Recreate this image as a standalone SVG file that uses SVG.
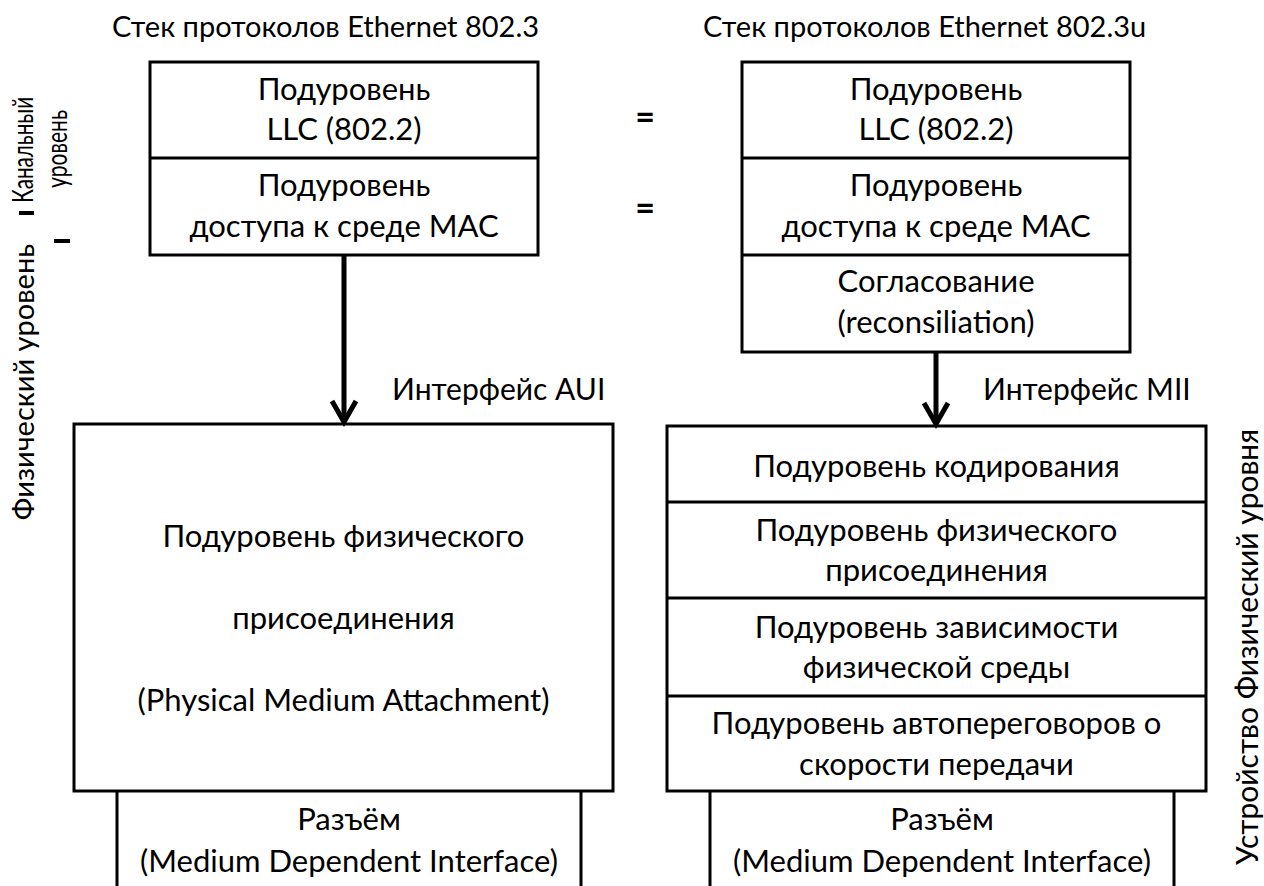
<svg xmlns="http://www.w3.org/2000/svg" width="1264" height="886" viewBox="0 0 1264 886">
  <style>
    .box { fill: #ffffff; stroke: #000000; stroke-width: 3; }
    .div { stroke: #000000; stroke-width: 3; }
    .t { font-family: Lato, "Liberation Sans", sans-serif; font-size: 31px; fill: #000000; text-anchor: middle; }
    .title { font-family: Lato, "Liberation Sans", sans-serif; font-size: 29px; fill: #000000; }
    .lbl { font-family: Lato, "Liberation Sans", sans-serif; font-size: 30px; fill: #000000; }
    .v { font-family: Lato, "Liberation Sans", sans-serif; font-size: 29px; fill: #000000; text-anchor: middle; }
    .vr { font-family: Lato, "Liberation Sans", sans-serif; font-size: 30px; fill: #000000; text-anchor: middle; }
    .vs { font-family: Lato, "Liberation Sans", sans-serif; font-size: 28px; fill: #000000; text-anchor: middle; }
    .eq { font-family: Lato, "Liberation Sans", sans-serif; font-size: 34px; font-weight: bold; fill: #000000; text-anchor: middle; }
    .shaft { stroke: #000000; stroke-width: 5; fill: none; }
    .head { stroke: #000000; stroke-width: 5; fill: none; stroke-linejoin: miter; }
    .bar { stroke: #000000; stroke-width: 4; }
  </style>
  <rect width="1264" height="886" fill="#ffffff"/>

  <!-- stack titles -->
  <text class="title" x="112" y="37">Стек протоколов Ethernet 802.3</text>
  <text class="title" x="703" y="37">Стек протоколов Ethernet 802.3u</text>

  <!-- 802.3: LLC + MAC -->
  <g id="left-upper">
    <rect class="box" x="150" y="62" width="388" height="193"/>
    <line class="div" x1="150" y1="158" x2="538" y2="158"/>
    <text class="t" x="344" y="100">Подуровень</text>
    <text class="t" x="344" y="140">LLC (802.2)</text>
    <text class="t" x="344" y="196">Подуровень</text>
    <text class="t" x="344" y="237">доступа к среде MAC</text>
  </g>

  <!-- 802.3: PMA -->
  <g id="left-pma">
    <rect class="box" x="74" y="424" width="539" height="367"/>
    <text class="t" x="343.5" y="547">Подуровень физического</text>
    <text class="t" x="343.5" y="629">присоединения</text>
    <text class="t" x="343.5" y="711">(Physical Medium Attachment)</text>
  </g>

  <!-- 802.3: MDI -->
  <g id="left-mdi">
    <path class="div" d="M117,791 V890 M581,791 V890" fill="none"/>
    <text class="t" x="349" y="830">Разъём</text>
    <text class="t" x="349" y="872">(Medium Dependent Interface)</text>
  </g>

  <!-- equality marks between the stacks -->
  <g id="equal-marks">
    <text class="eq" x="645" y="129">=</text>
    <text class="eq" x="645" y="220">=</text>
  </g>

  <!-- 802.3u: LLC + MAC + reconciliation -->
  <g id="right-upper">
    <rect class="box" x="742" y="62" width="388" height="290"/>
    <line class="div" x1="742" y1="158" x2="1130" y2="158"/>
    <line class="div" x1="742" y1="255" x2="1130" y2="255"/>
    <text class="t" x="936" y="100">Подуровень</text>
    <text class="t" x="936" y="140">LLC (802.2)</text>
    <text class="t" x="936" y="196">Подуровень</text>
    <text class="t" x="936" y="237">доступа к среде MAC</text>
    <text class="t" x="936" y="292">Согласование</text>
    <text class="t" x="936" y="333">(reconsiliation)</text>
  </g>

  <!-- 802.3u: physical sublayers -->
  <g id="right-phy">
    <rect class="box" x="667" y="426" width="539" height="365"/>
    <line class="div" x1="667" y1="502" x2="1206" y2="502"/>
    <line class="div" x1="667" y1="598" x2="1206" y2="598"/>
    <line class="div" x1="667" y1="696" x2="1206" y2="696"/>
    <text class="t" x="936.5" y="477">Подуровень кодирования</text>
    <text class="t" x="936.5" y="541">Подуровень физического</text>
    <text class="t" x="936.5" y="581">присоединения</text>
    <text class="t" x="936.5" y="638">Подуровень зависимости</text>
    <text class="t" x="936.5" y="678">физической среды</text>
    <text class="t" x="936.5" y="734">Подуровень автопереговоров о</text>
    <text class="t" x="936.5" y="775">скорости передачи</text>
  </g>

  <!-- 802.3u: MDI -->
  <g id="right-mdi">
    <path class="div" d="M710,791 V890 M1174,791 V890" fill="none"/>
    <text class="t" x="942" y="830">Разъём</text>
    <text class="t" x="942" y="872">(Medium Dependent Interface)</text>
  </g>

  <!-- interface arrows -->
  <g id="connectors">
    <line class="shaft" x1="344" y1="255" x2="344" y2="421"/>
    <polyline class="head" points="332,401 344,422 356,401"/>
    <line class="shaft" x1="936" y1="352" x2="936" y2="423"/>
    <polyline class="head" points="924,403 936,424 948,403"/>
  </g>
  <text class="lbl" x="392" y="400">Интерфейс AUI</text>
  <text class="lbl" x="983" y="400">Интерфейс MII</text>

  <!-- vertical level captions -->
  <g id="level-captions">
    <text class="vs" transform="translate(33,150) rotate(-90)" textLength="106" lengthAdjust="spacingAndGlyphs">Канальный</text>
    <text class="vs" transform="translate(67,149) rotate(-90)" textLength="78" lengthAdjust="spacingAndGlyphs">уровень</text>
    <line class="bar" x1="19" y1="213" x2="34" y2="213"/>
    <line class="bar" x1="54" y1="241" x2="70" y2="241"/>
    <text class="v" transform="translate(34,382) rotate(-90)">Физический уровень</text>
    <text class="vr" transform="translate(1258,647) rotate(-90)">Устройство Физический уровня</text>
  </g>
</svg>
